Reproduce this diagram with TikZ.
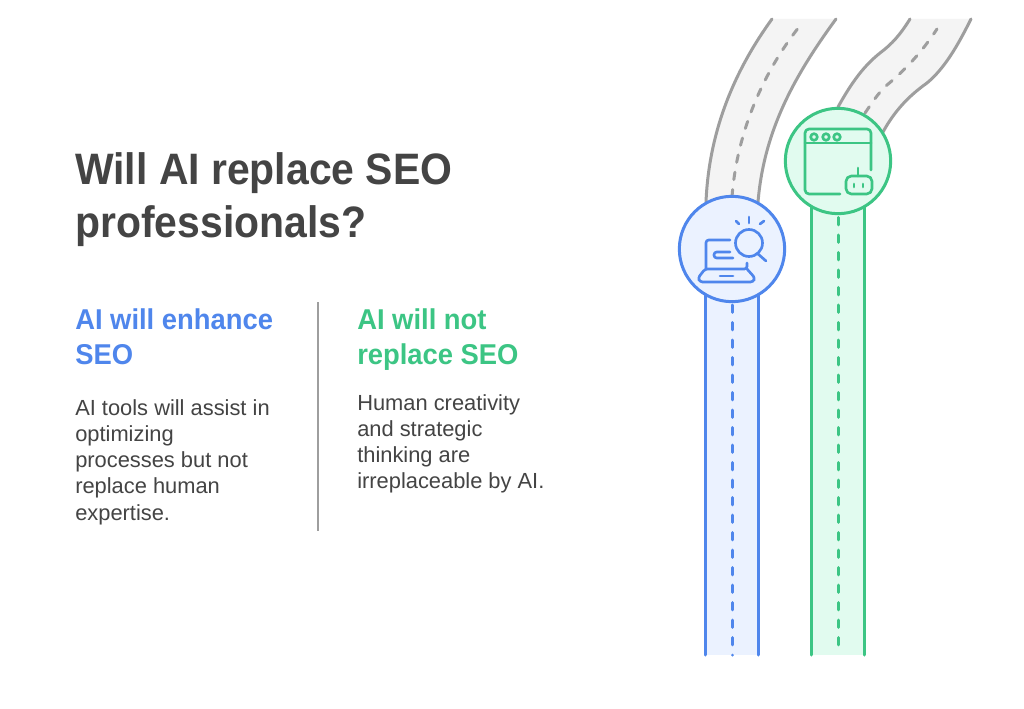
\documentclass[tikz,border=0pt]{standalone}
\usepackage{fontspec}
\setmainfont{Liberation Sans}
\newfontfamily\titlefont[FakeStretch=0.93]{Liberation Sans}
\newfontfamily\headfont[FakeStretch=0.955]{Liberation Sans}
\definecolor{inkgray}{HTML}{444444}
\definecolor{bluemain}{HTML}{4F86EC}
\definecolor{bluepale}{HTML}{EBF2FF}
\definecolor{greenmain}{HTML}{3CC584}
\definecolor{greenpale}{HTML}{E1FBEF}
\definecolor{roadedge}{HTML}{9E9E9E}
\definecolor{roadpale}{HTML}{F4F4F4}
\begin{document}
\begin{tikzpicture}[x=0.75pt,y=-0.75pt,
    title/.style ={anchor=north west, inner sep=0pt, align=left, text=inkgray, font=\titlefont\fontsize{33}{40}\selectfont\bfseries},
    heading/.style ={anchor=north west, inner sep=0pt, align=left, font=\headfont\fontsize{21.5}{26.5}\selectfont\bfseries},
    body/.style ={anchor=north west, inner sep=0pt, align=left, text=inkgray, font=\fontsize{16.4}{19.7}\selectfont},
    edgeline/.style ={line width=2.25pt, line cap=round},
    laneline/.style ={line width=2.25pt, line cap=round, dash pattern=on 5.6pt off 7.525pt},
    iconline/.style ={line width=2pt, line cap=round, line join=round},
    badge/.style ={circle, draw, line width=2.25pt, minimum size=79pt, inner sep=0pt}]
   \useasboundingbox (0,0) rectangle (1024,709);
   \fill[white] (0,0) rectangle (1024,709);
   % left column
   \node[title] (T) at (75,152) {Will AI replace SEO\\professionals?};
   \node[heading, text=bluemain] (H1) at (75,308) {AI will enhance\\SEO};
   \node[body] (B1) at (75,399) {AI tools will assist in\\optimizing\\processes but not\\replace human\\expertise.};
   \coordinate (S1) at (318,302);
   \coordinate (S2) at (318,531);
   \draw[line width=2pt, roadedge] (S1) to (S2);
   \node[heading, text=greenmain] (H2) at (357,308) {AI will not\\replace SEO};
   \node[body] (B2) at (357,394) {Human creativity\\and strategic\\thinking are\\irreplaceable by AI.};
   % grey roads
   \fill[roadpale] (706,202) .. controls (709,130) and (735,70) .. (772,19) -- (836,19)
      .. controls (795,75) and (764,130) .. (758,202) -- cycle;
   \fill[roadpale] (838,107) .. controls (853,80) and (865,65) .. (880,53) .. controls (892,44) and (900,35) .. (910,19)
      -- (971,19) .. controls (958,45) and (945,68) .. (927,83) .. controls (910,95) and (895,110) .. (883,132) -- cycle;
   \draw[edgeline, roadedge] (706,202) .. controls (709,130) and (735,70) .. (772,19);
   \draw[edgeline, roadedge] (758,202) .. controls (764,130) and (795,75) .. (836,19);
   \draw[laneline, roadedge] (732,197) .. controls (737,130) and (765,70) .. (799,27);
   \draw[edgeline, roadedge] (838,107) .. controls (853,80) and (865,65) .. (880,53) .. controls (892,44) and (900,35) .. (910,19);
   \draw[edgeline, roadedge] (883,132) .. controls (895,110) and (910,95) .. (927,83) .. controls (945,68) and (958,45) .. (971,19);
   \draw[laneline, roadedge] (865,113) .. controls (872,103) and (878,93) .. (887,85) .. controls (905,70) and (922,52) .. (937,29);
   % coloured lanes
   \fill[bluepale] (705,249) rectangle (758,655);
   \fill[greenpale] (811,161) rectangle (864,655);
   \draw[edgeline, bluemain] (705,249) to (705,655);
   \draw[edgeline, bluemain] (758,249) to (758,655);
   \draw[laneline, bluemain] (732,252.5) to (732,655.2);
   \draw[edgeline, greenmain] (811,161) to (811,655);
   \draw[edgeline, greenmain] (864,161) to (864,655);
   \draw[laneline, greenmain] (838,165) to (838,650);
   \node[badge, draw=bluemain, fill=bluepale] (L) at (732,249) {};
   \node[badge, draw=greenmain, fill=greenpale] (R) at (838,161) {};
   % laptop icon
   \draw[iconline, bluemain, rounded corners=2pt] (730,240) -- (706,240) -- (706,269);
   \draw[iconline, bluemain, rounded corners=2pt] (730,252) -- (714,252) -- (714,258) -- (733,258);
   \draw[iconline, bluemain, rounded corners=2pt] (747,263) -- (747,269) -- (705,269) -- (698,278) -- (700,282) -- (753,282) -- (755,278) -- (747,269);
   \draw[iconline, bluemain] (720,276) -- (733,276);
   \draw[iconline, bluemain] (749,243) circle (13.5);
   \draw[iconline, bluemain] (758,254) -- (766,261);
   \draw[iconline, bluemain] (749,217) -- (749,223);
   \draw[iconline, bluemain] (736,221) -- (739,224);
   \draw[iconline, bluemain] (764,221) -- (760,224);
   % window icon
   \draw[iconline, greenmain, rounded corners=3pt] (840,194) -- (805,194) -- (805,129) -- (871,129) -- (871,170);
   \draw[iconline, greenmain] (805,143) -- (871,143);
   \foreach \dotx in {814,826,837}
      \draw[iconline, greenmain] (\dotx,137) circle (3.3);
   \draw[iconline, greenmain, rounded corners=4pt] (846,176) rectangle (872,194);
   \draw[iconline, greenmain] (858,168) -- (858,176);
   \draw[iconline, greenmain] (854,184) -- (854,187);
   \draw[iconline, greenmain] (863,184) -- (863,187);
 \end{tikzpicture}
\end{document}
